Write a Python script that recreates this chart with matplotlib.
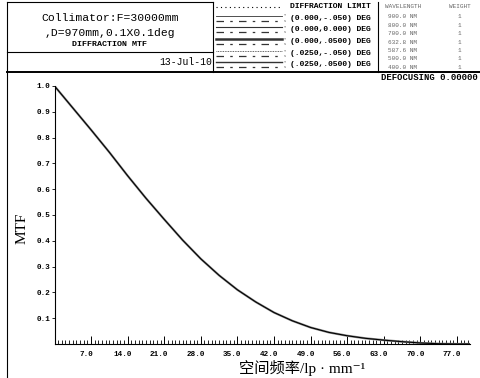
import matplotlib
matplotlib.use("Agg")
from matplotlib import pyplot as plt
from matplotlib.transforms import ScaledTranslation
import numpy as np

# spatial frequency (lp/mm) and polychromatic diffraction MTF
freq = [0, 3.5, 7, 10.5, 14, 17.5, 21, 24.5, 28, 31.5, 35, 38.5, 42, 45.5,
        49, 52.5, 56, 59.5, 63, 66.5, 70, 73.5, 77, 79.5]
mtf = [1.0, 0.915, 0.83, 0.743, 0.652, 0.565, 0.483, 0.403, 0.33, 0.266,
       0.21, 0.163, 0.122, 0.09, 0.064, 0.045, 0.032, 0.022, 0.015, 0.009,
       0.004, 0.001, 0.0, 0.0]

xticks = [7, 14, 21, 28, 35, 42, 49, 56, 63, 70, 77]
yticks = [0.1, 0.2, 0.3, 0.4, 0.5, 0.6, 0.7, 0.8, 0.9, 1.0]

fields = ["(0.000,-.050) DEG", "(0.000,0.000) DEG", "(0.000,.0500) DEG",
          "(.0250,-.050) DEG", "(.0250,.0500) DEG"]
wavelengths = ["900.0 NM", "800.0 NM", "700.0 NM", "632.8 NM",
               "587.6 NM", "500.0 NM", "400.0 NM"]
weights = ["1", "1", "1", "1", "1", "1", "1"]

W, H = 481, 378
mono = "Liberation Mono"

fig = plt.figure(figsize=(W / 100, H / 100), dpi=100)

# header / frame drawn in pixel coordinates
bg = fig.add_axes([0, 0, 1, 1])
bg.set_xlim(0, W)
bg.set_ylim(H, 0)
bg.axis("off")

lk = dict(color="black", lw=0.8)
bg.plot([7, 7], [2, H], **lk)
bg.plot([7, 213], [2, 2], **lk)
bg.plot([213, 213], [2, 72], **lk)
bg.plot([378, 378], [2, 72], **lk)
bg.plot([7, 213], [52, 52], **lk)
bg.plot([7, W], [72, 72], color="black", lw=1.4)

bg.text(110, 18, "Collimator:F=30000mm", family=mono, fontsize=8.2,
        ha="center", va="center")
bg.text(110, 33, ",D=970mm,0.1X0.1deg", family=mono, fontsize=8.2,
        ha="center", va="center")
bg.text(110, 44, "DIFFRACTION MTF", family=mono, fontsize=6, weight="bold",
        ha="center", va="center")
bg.text(212, 62, "13-Jul-10", family=mono, fontsize=7, ha="right", va="center")

# legend block
bg.plot([216, 282], [7, 7], color="black", lw=0.8, ls=(0, (1, 3)))
bg.text(290, 7, "DIFFRACTION LIMIT", family=mono, fontsize=5.8,
        weight="bold", va="center")
t_styles = [(0.6, "-"), (0.8, "-"), (1.8, "-"), (0.6, (0, (1, 1))), (1.0, "-")]
for i, name in enumerate(fields):
    y = 18 + i * 11.7
    lw, ls = t_styles[i]
    bg.plot([216, 282], [y - 2.5, y - 2.5], color="#333333", lw=lw, ls=ls)
    bg.plot([216, 282], [y + 2.5, y + 2.5], color="#333333", lw=0.9,
            ls=(0, (6, 5, 2, 5)))
    bg.text(284, y - 2.5, "T", family=mono, fontsize=2.5, va="center",
            color="#555555")
    bg.text(284, y + 2.5, "S", family=mono, fontsize=2.5, va="center",
            color="#555555")
    bg.text(290, y, name, family=mono, fontsize=5.8, weight="bold",
            va="center")

# wavelength table
bg.text(403, 7, "WAVELENGTH", family=mono, fontsize=4.3, ha="center",
        va="center", color="#666666")
bg.text(460, 7, "WEIGHT", family=mono, fontsize=4.3, ha="center",
        va="center", color="#666666")
for i, (wl, wt) in enumerate(zip(wavelengths, weights)):
    y = 17 + i * 8.4
    bg.text(403, y, wl, family=mono, fontsize=4.3, ha="center", va="center",
            color="#666666")
    bg.text(459, y, wt, family=mono, fontsize=4.3, ha="center", va="center",
            color="#666666")

bg.text(478, 78, "DEFOCUSING 0.00000", family=mono, fontsize=6.4,
        weight="bold", ha="right", va="center")

# MTF plot
ax = fig.add_axes([54.5 / W, 1 - 344 / H, 415.5 / W, (344 - 86) / H])
ax.plot(freq, mtf, color="#888888", lw=1.6)
ax.plot(freq, mtf, color="black", lw=0.8)
ax.set_xlim(0, 79.5)
ax.set_ylim(0, 1.0)
ax.spines["top"].set_visible(False)
ax.spines["right"].set_visible(False)
ax.spines["left"].set_linewidth(0.8)
ax.spines["bottom"].set_linewidth(0.8)
ax.patch.set_alpha(0)

ax.set_xticks(xticks)
ax.set_xticklabels(["%.1f" % v for v in xticks], family=mono, fontsize=5.5,
                   weight="bold")
ax.set_xticks(np.arange(0, 79.6, 0.7), minor=True)
ax.tick_params(axis="x", which="major", direction="in", length=6, width=0.7,
               pad=5)
ax.tick_params(axis="x", which="minor", direction="in", length=3, width=0.6)
offset = ScaledTranslation(-5 / 100, 0, fig.dpi_scale_trans)
for lab in ax.get_xticklabels():
    lab.set_transform(lab.get_transform() + offset)

ax.set_yticks(yticks)
ax.set_yticklabels(["%.1f" % v for v in yticks], family=mono, fontsize=5.5,
                   weight="bold")
ax.tick_params(axis="y", direction="out", length=2, width=0.6, pad=1)

fig.text(22 / W, 1 - 228 / H, "MTF", family="Liberation Serif", fontsize=11,
         rotation=90, ha="center", va="center")
fig.text(302 / W, 1 - 368 / H, "空间频率/lp · mm⁻¹",
         family=["Liberation Serif", "Noto Sans CJK SC", "DejaVu Sans"],
         fontsize=11, ha="center", va="center")

fig.savefig("out.png", dpi=100)
